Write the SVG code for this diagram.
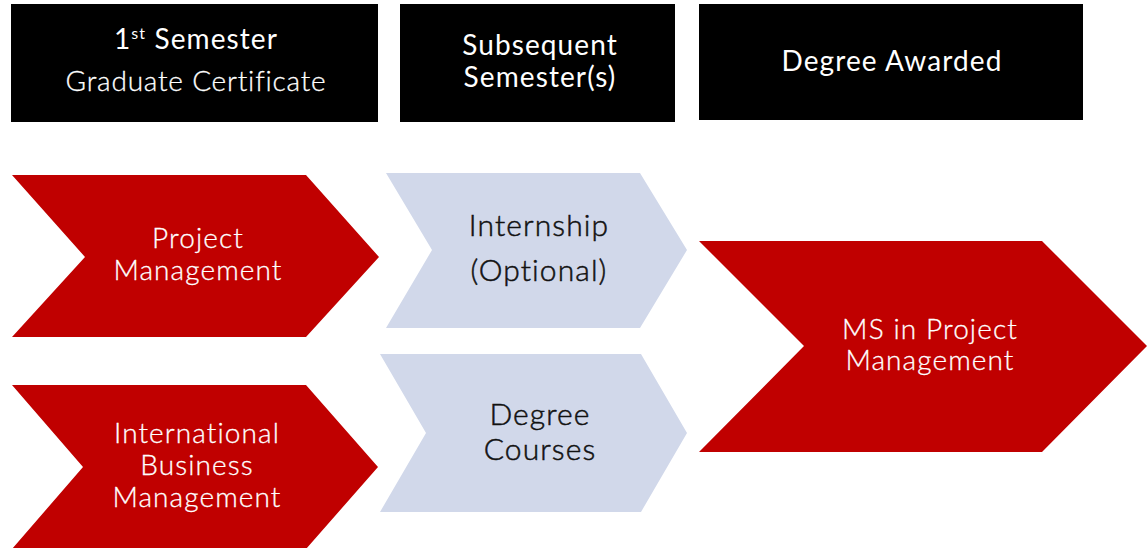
<svg xmlns="http://www.w3.org/2000/svg" width="1147" height="548" viewBox="0 0 1147 548">
<style>
.hdr{fill:#000}
.red{fill:#C00000}
.blue{fill:#D1D8EA}
text{font-family:Lato,"Noto Sans",sans-serif;text-anchor:middle;font-weight:normal}
.w{fill:#fff;stroke:#fff;stroke-width:0.3px;font-size:28px;font-family:"Lato Light",Lato,sans-serif;letter-spacing:1.1px}
.wc{fill:#fff;stroke:#fff;stroke-width:0.3px;font-size:28px;font-family:"Lato Light",Lato,sans-serif;letter-spacing:0.8px}
.wb{fill:#fff;font-size:28px;letter-spacing:1.1px}
.k{fill:#111;stroke:#111;stroke-width:0.5px;font-size:30px;font-family:"Lato Light",Lato,sans-serif;letter-spacing:1.1px}
</style>
<rect width="1147" height="548" fill="#fff"/>
<g id="hdr1"><rect class="hdr" x="11" y="4" width="367" height="118"/>
<text class="wb" x="196" y="49">1<tspan font-size="16" dy="-10">st</tspan><tspan dy="10"> Semester</tspan></text>
<text class="wc" x="196" y="91">Graduate Certificate</text></g>
<g id="hdr2"><rect class="hdr" x="400" y="4" width="275" height="118"/>
<text class="wb" x="540" y="55">Subsequent</text>
<text class="wb" x="540" y="87">Semester(s)</text></g>
<g id="hdr3"><rect class="hdr" x="699" y="4" width="384" height="116"/>
<text class="wb" x="892" y="71">Degree Awarded</text></g>
<g id="pm"><polygon class="red" points="12,175 306,175 379,257 306,337 12,337 85,257"/>
<text class="w" x="198" y="248">Project</text>
<text class="w" x="198" y="280">Management</text></g>
<g id="ibm"><polygon class="red" points="12,385 306,385 378,467 306,549 12,549 83,467"/>
<text class="w" x="197" y="443">International</text>
<text class="w" x="197" y="475">Business</text>
<text class="w" x="197" y="507">Management</text></g>
<g id="intern"><polygon class="blue" points="386,173 640,173 687,250 640,328 386,328 432,250"/>
<text class="k" x="539" y="236">Internship</text>
<text class="k" x="539" y="281">(Optional)</text></g>
<g id="courses"><polygon class="blue" points="380,354 641,354 687,433 641,512 380,512 426,433"/>
<text class="k" x="540" y="425">Degree</text>
<text class="k" x="540" y="460">Courses</text></g>
<g id="ms"><polygon class="red" points="699,241 1042,241 1147,346 1042,452 699,452 804,346"/>
<text class="w" x="930" y="339">MS in Project</text>
<text class="w" x="930" y="370">Management</text></g>
<g id="connectors"/>
</svg>
